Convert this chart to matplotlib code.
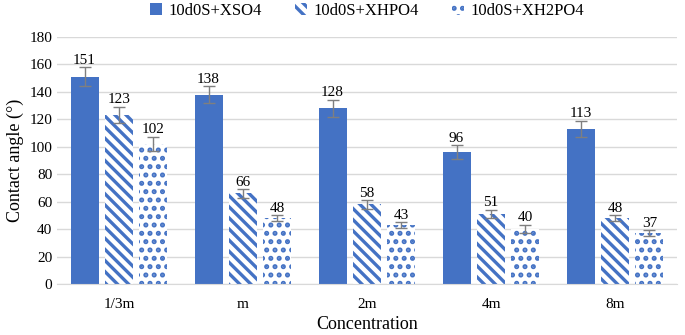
import matplotlib
matplotlib.use('Agg')
import matplotlib.pyplot as plt
import numpy as np

categories = ['1/3m', 'm', '2m', '4m', '8m']
series_names = ['10d0S+XSO4', '10d0S+XHPO4', '10d0S+XH2PO4']
xso4 = [151, 138, 128, 96, 113]
xhpo4 = [123, 66, 58, 51, 48]
xh2po4 = [102, 48, 43, 40, 37]
xso4_err = [7, 6, 6, 5, 6]
xhpo4_err = [6, 3, 3, 3, 2]
xh2po4_err = [5, 2, 2, 3, 2]

BLUE = '#4472C4'

plt.rcParams['font.family'] = ['Liberation Serif', 'DejaVu Serif']
plt.rcParams['hatch.linewidth'] = 2.4
plt.rcParams['hatch.color'] = BLUE

fig = plt.figure(figsize=(6.85, 3.35), dpi=100)
ax = fig.add_axes([57 / 685, 51 / 335, 620 / 685, 247 / 335])

x = np.arange(len(categories))
w = 0.226
step = 0.278
data = [xso4, xhpo4, xh2po4]
errs = [xso4_err, xhpo4_err, xh2po4_err]
hatches = [None, '\\\\\\', '..']

for i in range(3):
  pos = x + (i - 1) * step
  if i == 0:
    bars = ax.bar(pos, data[i], w, color=BLUE, label=series_names[i], zorder=2)
  else:
    bars = ax.bar(pos, data[i], w, facecolor='white', edgecolor=BLUE,
                  linewidth=0, hatch=hatches[i], label=series_names[i], zorder=2)
  ax.errorbar(pos, data[i], yerr=errs[i], fmt='none', ecolor='#7f7f7f',
              elinewidth=1, capsize=4, capthick=1, zorder=3)
  for p, v, e in zip(pos, data[i], errs[i]):
    ax.text(p, v + e + 0.5, str(v), ha='center', va='bottom', fontsize=11)

ax.set_xlim(-0.5, len(categories) - 0.5)
ax.set_ylim(0, 180)
ax.set_yticks(range(0, 181, 20))
ax.set_xticks(x)
ax.set_xticklabels(categories)
ax.tick_params(axis='both', length=0, labelsize=11)
ax.tick_params(axis='x', pad=10)
ax.grid(axis='y', color='#d9d9d9', linewidth=1, zorder=0)
for s in ['top', 'right', 'left']:
  ax.spines[s].set_visible(False)
ax.spines['bottom'].set_color('#d9d9d9')

ax.set_ylabel('Contact angle (°)', fontsize=13)
ax.set_xlabel('Concentration', fontsize=13, labelpad=4)

ax.legend(loc='upper center', bbox_to_anchor=(0.5, 1.2), ncol=3, frameon=False,
          fontsize=12, handlelength=0.7, handleheight=0.7, columnspacing=2.0,
          handletextpad=0.4)

fig.savefig('out.png', dpi=100)
